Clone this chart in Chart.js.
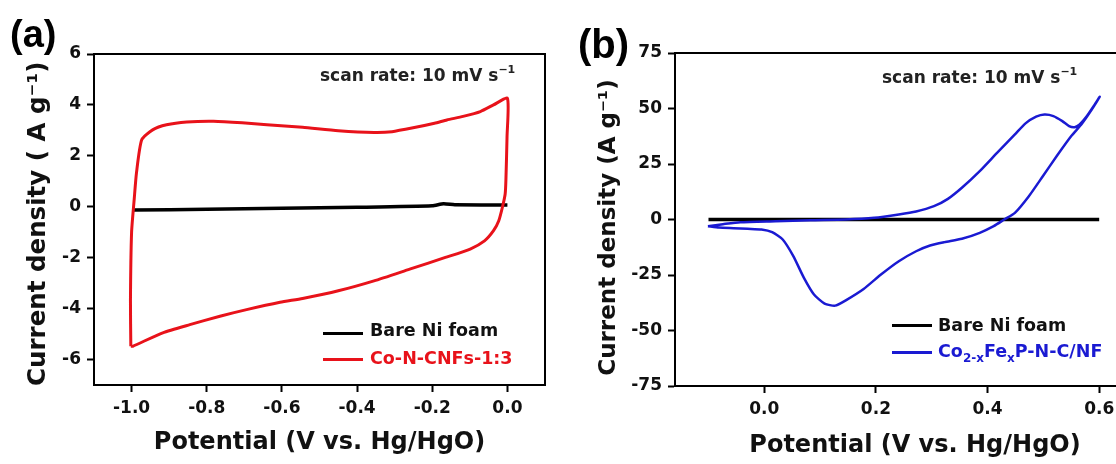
<!DOCTYPE html>
<html lang="en">
<head>
  <meta charset="UTF-8" />
  <title>CV curves</title>
  <script src="https://cdn.jsdelivr.net/npm/chart.js"></script>
  <style>
    html, body { margin: 0; padding: 0; background: #fff; overflow: hidden; }
    #wrap { position: relative; width: 1116px; height: 464px; overflow: hidden; font-family: 'DejaVu Sans', sans-serif; font-weight: bold; }
    canvas { position: absolute; top: 0; }
    .lbl { position: absolute; line-height: 1; white-space: nowrap; }
    .panel { font-family: 'Liberation Sans', Arial, sans-serif; font-size: 38px; }
    .scan { font-size: 17px; color: #222; }
    .scan sup { font-size: 11px; position: relative; top: -1px; }
    .leg { font-size: 17.5px; }
    .leg sub { font-size: 12px; vertical-align: -5px; line-height: 0; }
    .swatch { position: absolute; width: 40px; height: 3px; }
  </style>
</head>
<body>
  <div id="wrap">
    <canvas id="chartA" width="560" height="464" style="left:0"></canvas>
    <canvas id="chartB" width="605" height="464" style="left:560px"></canvas>

    <div class="lbl panel" style="left:10px; top:15px;">(a)</div>
    <div class="lbl panel" style="left:578px; top:24px; font-size:40px;">(b)</div>

    <div class="lbl scan" style="left:320px; top:65px;">scan rate: 10 mV s<sup>&minus;1</sup></div>
    <div class="lbl scan" style="left:882px; top:67px;">scan rate: 10 mV s<sup>&minus;1</sup></div>

    <!-- légendes (a) -->
    <div class="swatch" style="left:323px; top:332px; background:#000;"></div>
    <div class="lbl leg" style="left:370px; top:322px; color:#111;">Bare Ni foam</div>
    <div class="swatch" style="left:323px; top:358px; background:#e8121a;"></div>
    <div class="lbl leg" style="left:370px; top:350px; color:#e8121a;">Co-N-CNFs-1:3</div>

    <!-- légendes (b) -->
    <div class="swatch" style="left:892px; top:324px; background:#000;"></div>
    <div class="lbl leg" style="left:938px; top:317px; color:#111;">Bare Ni foam</div>
    <div class="swatch" style="left:892px; top:351px; background:#1a1ad2;"></div>
    <div class="lbl leg" style="left:938px; top:343px; color:#1a1ad2;">Co<sub>2-x</sub>Fe<sub>x</sub>P-N-C/NF</div>
  </div>

  <script>
    // ---- données (a) : Co-N-CNFs-1:3 ----
    const aRedV = [-1.002, -1.003, -1.0, -0.993, -0.987, -0.973, -0.944, -0.907, -0.853, -0.782, -0.706, -0.64, -0.545,
                   -0.45, -0.355, -0.307, -0.251, -0.194, -0.161, -0.118, -0.072, -0.037, 0.0,
                   -0.001, -0.004, -0.006, -0.013, -0.023, -0.037, -0.061, -0.099, -0.165, -0.26, -0.355,
                   -0.45, -0.545, -0.605, -0.694, -0.765, -0.845, -0.917, -0.997, -1.002];
    const aRedI = [-5.48, -3.7, -1.0, 0.3, 1.33, 2.63, 3.02, 3.22, 3.33, 3.36, 3.3, 3.22, 3.12,
                   2.99, 2.92, 2.95, 3.1, 3.28, 3.41, 3.55, 3.74, 4.0, 4.26,
                   2.76, 1.06, 0.5, 0.0, -0.55, -0.94, -1.34, -1.66, -1.99, -2.45, -2.91,
                   -3.3, -3.6, -3.75, -4.04, -4.3, -4.63, -4.95, -5.48, -5.48];
    // Bare Ni foam (a)
    const aBlackV = [-0.995, -0.8, -0.6, -0.4, -0.2, -0.17, -0.14, 0.0];
    const aBlackI = [-0.13, -0.1, -0.06, -0.02, 0.04, 0.12, 0.08, 0.07];

    // ---- données (b) : Co2-xFexP-N-C/NF ----
    const bBlueV = [-0.101, -0.074, -0.043, 0.02, 0.083, 0.146, 0.197, 0.241, 0.272, 0.304, 0.329, 0.354, 0.386,
                    0.417, 0.449, 0.468, 0.487, 0.502, 0.518, 0.534, 0.546, 0.556, 0.565, 0.578, 0.591, 0.601,
                    0.587, 0.568, 0.55, 0.524, 0.499, 0.474, 0.449, 0.43, 0.411, 0.386, 0.354, 0.323, 0.297,
                    0.272, 0.241, 0.209, 0.178, 0.146, 0.127, 0.108, 0.089, 0.071, 0.052, 0.033, 0.014,
                    -0.005, -0.03, -0.055, -0.081, -0.101];
    const bBlueI = [-3.0, -2.1, -1.2, -0.75, -0.3, 0.0, 0.75, 2.25, 3.6, 6.0, 9.3, 14.3, 21.8,
                    30.0, 38.3, 43.3, 46.3, 47.3, 46.6, 44.3, 42.1, 41.6, 42.8, 46.6, 51.4, 55.3,
                    49.6, 42.8, 37.6, 28.6, 19.5, 10.5, 3.0, 0.0, -3.0, -6.0, -8.7, -10.2, -11.7,
                    -14.3, -18.8, -24.8, -31.3, -36.4, -38.8, -37.9, -33.8, -26.3, -16.5, -9.0, -5.7,
                    -4.5, -4.2, -3.9, -3.6, -3.0];
    // Bare Ni foam (b)
    const bBlackV = [-0.1, 0.2, 0.6];
    const bBlackI = [0.0, 0.0, 0.0];

    // graduations
    const aXTicks = [-1.0, -0.8, -0.6, -0.4, -0.2, 0.0];
    const aYTicks = [-6, -4, -2, 0, 2, 4, 6];
    const bXTicks = [0.0, 0.2, 0.4, 0.6];
    const bYTicks = [-75, -50, -25, 0, 25, 50, 75];

    const toPts = (xs, ys) => xs.map((x, i) => ({ x: x, y: ys[i] }));

    // cadre autour de la zone de tracé
    const framePlugin = {
      id: 'frame',
      afterDatasetsDraw(chart) {
        const { ctx, chartArea: a } = chart;
        ctx.save();
        ctx.strokeStyle = '#000';
        ctx.lineWidth = 2;
        ctx.strokeRect(a.left, a.top, a.right - a.left, a.bottom - a.top);
        ctx.restore();
      }
    };

    function axis(ticks, min, max, size, title, titleSize, titlePad, fmt) {
      return {
        type: 'linear',
        min: min,
        max: max,
        afterBuildTicks: s => { s.ticks = ticks.map(v => ({ value: v })); },
        afterFit: s => {
          if (s.isHorizontal()) s.height = size; else s.width = size;
        },
        grid: { drawOnChartArea: false, drawTicks: true, tickLength: 7, tickWidth: 2, tickColor: '#000' },
        border: { display: true, color: '#000', width: 2 },
        ticks: {
          color: '#111',
          padding: 6,
          font: { family: "'DejaVu Sans'", weight: 'bold', size: 17 },
          callback: fmt
        },
        title: {
          display: true,
          text: title,
          color: '#111',
          padding: titlePad,
          font: { family: "'DejaVu Sans'", weight: 'bold', size: titleSize }
        }
      };
    }

    function makeChart(id, datasets, xAxis, yAxis, padding) {
      return new Chart(document.getElementById(id), {
        type: 'scatter',
        data: { datasets: datasets },
        options: {
          responsive: false,
          animation: false,
          layout: { padding: padding },
          plugins: { legend: { display: false }, tooltip: { enabled: false } },
          elements: { point: { radius: 0 } },
          scales: { x: xAxis, y: yAxis }
        },
        plugins: [framePlugin]
      });
    }

    const line = (pts, color, w) => ({
      data: pts, showLine: true, borderColor: color, backgroundColor: color,
      borderWidth: w, pointRadius: 0, tension: 0.2, fill: false
    });

    // les espaces en fin de titre décalent le texte vertical vers le bas
    makeChart('chartA',
      [line(toPts(aRedV, aRedI), '#e8121a', 3), line(toPts(aBlackV, aBlackI), '#000', 3.5)],
      axis(aXTicks, -1.1, 0.1, 79, 'Potential (V vs. Hg/HgO)', 24, { top: 0, bottom: 7 }, v => v.toFixed(1)),
      axis(aYTicks, -7, 6, 94, 'Current density ( A g\u207B\u00B9) ', 24.5, { top: 24, bottom: 0 }, v => String(v)),
      { top: 54, right: 15, left: 0, bottom: 0 });

    makeChart('chartB',
      [line(toPts(bBlueV, bBlueI), '#1a1ad2', 2.5), line(toPts(bBlackV, bBlackI), '#000', 3.5)],
      axis(bXTicks, -0.16, 0.7, 78, 'Potential (V vs. Hg/HgO)', 24, { top: 0, bottom: 4 }, v => v.toFixed(1)),
      axis(bYTicks, -75, 75, 115, 'Current density (A g\u207B\u00B9)  ', 23, { top: 35, bottom: 0 }, v => String(v)),
      { top: 53, right: 10, left: 0, bottom: 0 });
  </script>
</body>
</html>
